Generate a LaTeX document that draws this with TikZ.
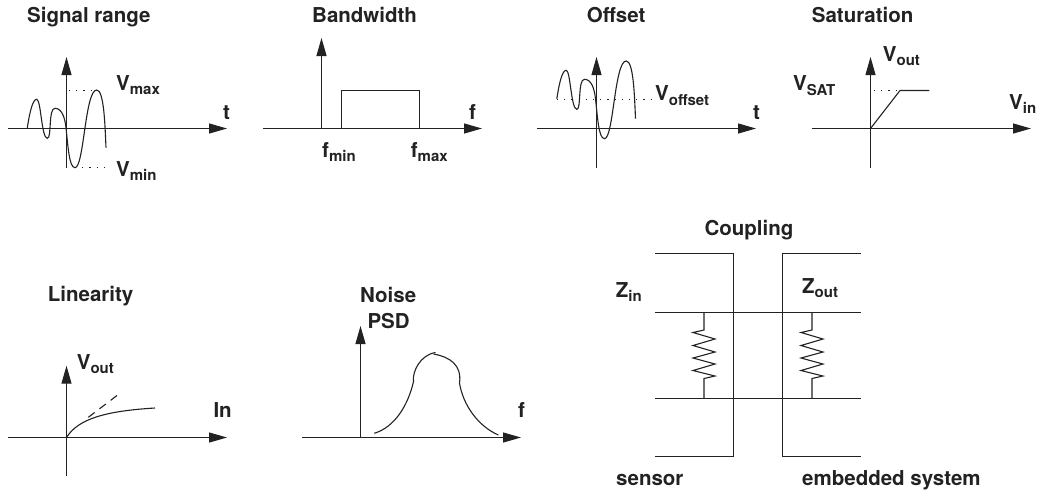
\documentclass[tikz,border=0pt]{standalone}
\usepackage{fontspec}
\setmainfont{TeX Gyre Heros}
\usetikzlibrary{arrows.meta}
\definecolor{ink}{HTML}{222222}
\newcommand{\lblsub}[2]{#1\raisebox{-4.5pt}{\fontsize{15}{15}\selectfont #2}}
\tikzset{
  lbl/.style={anchor=base west, inner sep=0pt, text=ink, font=\fontsize{20.5}{22}\selectfont\bfseries},
  axis/.style={draw=ink, line width=1.1pt, -{Triangle[length=18pt,width=10pt]}},
  curve/.style={draw=ink, line width=1.1pt},
  dots/.style={draw=ink, line width=1.1pt, dash pattern=on 1.2pt off 6pt},
  wave/.pic={
    \draw[curve] (27.3,128) .. controls (30,110) and (33,99.3) .. (36.7,99.3)
      .. controls (41,99.3) and (41.5,138.3) .. (47.3,138.3)
      .. controls (52,138.3) and (48,108.3) .. (55,108.3)
      .. controls (62,108.3) and (65,118) .. (66,128)
      .. controls (68,145) and (69,167.7) .. (75,167.7)
      .. controls (84,167.7) and (85,90) .. (96.7,90)
      .. controls (104,90) and (105,125) .. (106,147.7);
  },
  resistor/.pic={
    \draw[curve] (0,0) -- (0,18) -- (-11,20.5) -- (11,27) -- (-11,33.5) -- (11,40) -- (-11,46) -- (11,52) -- (-11,58.5) -- (11,64) -- (0,66.5) -- (0,86.5);
  }
}
\begin{document}
\begin{tikzpicture}[x=1pt, y=-1pt]
\useasboundingbox (0,0) rectangle (1040,493);

% signal range
\node[lbl] at (27,22.7) (t1) {Signal range};
\draw[axis] (8,128.5) -- (227,128.5);
\draw[axis] (66.5,167.5) -- (66.5,57);
\pic at (0,0) {wave};
\draw[dots] (69,90.5) -- (96,90.5);
\draw[dots] (75,167.5) -- (106,167.5);
\node[lbl] at (116,90) (vmax) {\lblsub{V}{max}};
\node[lbl] at (116,176) (vmin) {\lblsub{V}{min}};
\node[lbl] at (223,119) (t1x) {t};

% bandwidth
\node[lbl] at (312,22.7) (t2) {Bandwidth};
\draw[axis] (263,128.5) -- (482,128.5);
\draw[axis] (321.5,128.5) -- (321.5,38);
\draw[curve] (341.5,128.5) -- (341.5,90.5) -- (419.5,90.5) -- (419.5,128.5);
\node[lbl] at (469,119) (t2x) {f};
\node[lbl] at (322,157) (fmin) {\lblsub{f}{min}};
\node[lbl] at (410.7,157) (fmax) {\lblsub{f}{max}};

% offset
\node[lbl] at (586.7,22.7) (t3) {Offset};
\draw[axis] (537,128.5) -- (756,128.5);
\draw[axis] (596.5,167.5) -- (596.5,57);
\pic at (529.5,-29) {wave};
\draw[dots] (557,99.5) -- (651,99.5);
\node[lbl] at (655,100.7) (voff) {\lblsub{V}{offset}};
\node[lbl] at (753,119) (t3x) {t};

% saturation
\node[lbl] at (811.7,22.7) (t4) {Saturation};
\draw[axis] (811.7,128.5) -- (1031,128.5);
\draw[axis] (870.5,167.5) -- (870.5,57);
\draw[curve] (870.5,128.5) -- (900,90.5) -- (929.3,90.5);
\draw[dots] (874,90.5) -- (900,90.5);
\node[lbl] at (882.7,61) (vout1) {\lblsub{V}{out}};
\node[lbl] at (793,90.7) (vsat) {\lblsub{V}{SAT}};
\node[lbl] at (1009,109) (vin) {\lblsub{V}{in}};

% linearity
\node[lbl] at (47.7,301.7) (t5) {Linearity};
\draw[axis] (8,437.5) -- (227,437.5);
\draw[axis] (66.5,475.7) -- (66.5,365.7);
\draw[curve] (66.5,437.5) .. controls (78,419) and (105,411) .. (155,408);
\draw[curve, dash pattern=on 8pt off 6pt] (88.3,417.3) -- (120.7,392.7);
\node[lbl] at (76.7,369.3) (vout2) {\lblsub{V}{out}};
\node[lbl] at (213.3,417.7) (t5x) {In};

% noise
\node[lbl] at (360,302.7) (t6) {Noise};
\node[lbl] at (367.3,328.3) (t6b) {PSD};
\draw[axis] (302,437.5) -- (521,437.5);
\draw[axis] (360.5,437.5) -- (360.5,326);
\draw[curve] (374.3,433.3) .. controls (395,427) and (408,405) .. (413.5,381.7)
  .. controls (412,372) and (420,355) .. (435.5,352.5);
\draw[curve] (433.5,354) .. controls (450,357) and (462,365) .. (459.5,383)
  .. controls (463,405) and (478,426) .. (498.3,435);
\node[lbl] at (518,417.7) (t6x) {f};

% coupling
\node[lbl] at (704.3,235) (t7) {Coupling};
\draw[curve] (655,253.5) -- (733.5,253.5) -- (733.5,456.5) -- (655,456.5);
\draw[curve] (860.7,253.5) -- (782.5,253.5) -- (782.5,456.5) -- (860.7,456.5);
\draw[curve] (655,312.5) -- (860.7,312.5);
\draw[curve] (655,398.5) -- (860.7,398.5);
\pic at (704,312) {resistor};
\pic at (812,312) {resistor};
\node[lbl] at (615.7,297.3) (zin) {\lblsub{Z}{in}};
\node[lbl] at (802,293.3) (zout) {\lblsub{Z}{out}};
\node[lbl] at (616,485.7) (sensor) {sensor};
\node[lbl] at (802,485.7) (embsys) {embedded system};

\end{tikzpicture}
\end{document}
